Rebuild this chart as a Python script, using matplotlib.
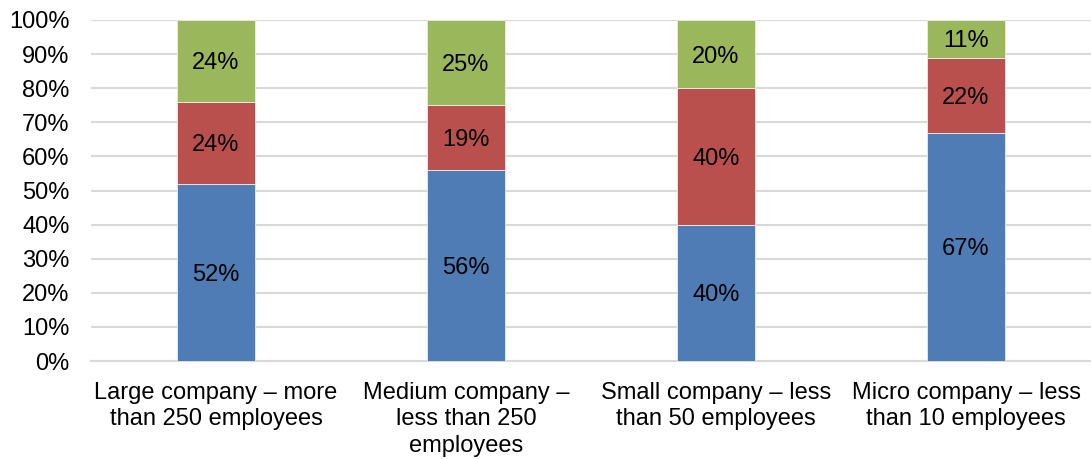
import numpy as np
import matplotlib.pyplot as plt

plt.rcParams['font.family'] = ['Liberation Sans', 'DejaVu Sans']

categories = ['Large company – more\nthan 250 employees',
              'Medium company –\nless than 250\nemployees',
              'Small company – less\nthan 50 employees',
              'Micro company – less\nthan 10 employees']
bottom_share = [52, 56, 40, 67]
middle_share = [24, 19, 40, 22]
top_share = [24, 25, 20, 11]

colors = ['#4F7CB4', '#BA504E', '#9BB75B']

fig = plt.figure(figsize=(10.91, 4.59), dpi=100)
ax = fig.add_axes([91 / 1091, 1 - 361 / 459, 1000 / 1091, 341 / 459])

x = np.arange(len(categories))
base = np.zeros(len(categories))
for values, color in zip([bottom_share, middle_share, top_share], colors):
    vals = np.array(values, dtype=float)
    bars = ax.bar(x, vals, bottom=base, width=0.312, color=color,
                  edgecolor='#E8EEF6', linewidth=0.6, zorder=3)
    for rect, v, b in zip(bars, vals, base):
        ax.text(rect.get_x() + rect.get_width() / 2, b + v / 2, f'{int(v)}%',
                ha='center', va='center_baseline', fontsize=17, color='black', zorder=4)
    base += vals

ax.set_xlim(-0.5, len(categories) - 0.5)
ax.set_ylim(0, 100)
ax.set_yticks(np.arange(0, 101, 10))
ax.set_yticklabels([f'{t}%' for t in range(0, 101, 10)])
ax.yaxis.grid(True, color='#D9D9D9', linewidth=1.5, zorder=0)
ax.set_axisbelow(True)
ax.set_xticks(x)
ax.set_xticklabels(categories, linespacing=1.27)

for s in ['top', 'right', 'left']:
    ax.spines[s].set_visible(False)
ax.spines['bottom'].set_color('#D9D9D9')
ax.spines['bottom'].set_linewidth(1.5)
ax.tick_params(axis='both', length=0, labelsize=17, colors='black')
ax.tick_params(axis='y', pad=15.5)
ax.tick_params(axis='x', pad=15)

fig.savefig('out.png', dpi=100)
